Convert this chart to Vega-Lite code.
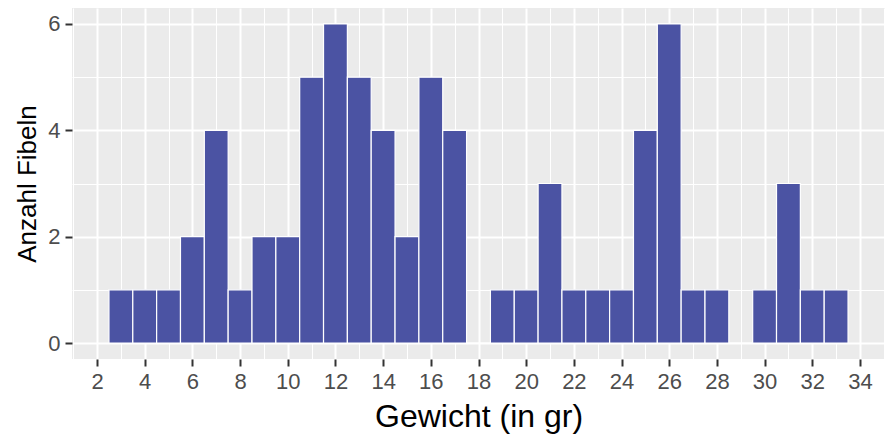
{
  "$schema": "https://vega.github.io/schema/vega-lite/v6.json",
  "width": 813,
  "height": 351,
  "autosize": "none",
  "padding": {"left": 72, "top": 8, "right": 0, "bottom": 78},
  "background": "white",
  "config": {
    "view": {"fill": "#EBEBEB", "stroke": null},
    "font": "Liberation Sans"
  },
  "data": {
    "values": [
      {"von": 2.5, "bis": 3.5, "anzahl": 1},
      {"von": 3.5, "bis": 4.5, "anzahl": 1},
      {"von": 4.5, "bis": 5.5, "anzahl": 1},
      {"von": 5.5, "bis": 6.5, "anzahl": 2},
      {"von": 6.5, "bis": 7.5, "anzahl": 4},
      {"von": 7.5, "bis": 8.5, "anzahl": 1},
      {"von": 8.5, "bis": 9.5, "anzahl": 2},
      {"von": 9.5, "bis": 10.5, "anzahl": 2},
      {"von": 10.5, "bis": 11.5, "anzahl": 5},
      {"von": 11.5, "bis": 12.5, "anzahl": 6},
      {"von": 12.5, "bis": 13.5, "anzahl": 5},
      {"von": 13.5, "bis": 14.5, "anzahl": 4},
      {"von": 14.5, "bis": 15.5, "anzahl": 2},
      {"von": 15.5, "bis": 16.5, "anzahl": 5},
      {"von": 16.5, "bis": 17.5, "anzahl": 4},
      {"von": 17.5, "bis": 18.5, "anzahl": 0},
      {"von": 18.5, "bis": 19.5, "anzahl": 1},
      {"von": 19.5, "bis": 20.5, "anzahl": 1},
      {"von": 20.5, "bis": 21.5, "anzahl": 3},
      {"von": 21.5, "bis": 22.5, "anzahl": 1},
      {"von": 22.5, "bis": 23.5, "anzahl": 1},
      {"von": 23.5, "bis": 24.5, "anzahl": 1},
      {"von": 24.5, "bis": 25.5, "anzahl": 4},
      {"von": 25.5, "bis": 26.5, "anzahl": 6},
      {"von": 26.5, "bis": 27.5, "anzahl": 1},
      {"von": 27.5, "bis": 28.5, "anzahl": 1},
      {"von": 28.5, "bis": 29.5, "anzahl": 0},
      {"von": 29.5, "bis": 30.5, "anzahl": 1},
      {"von": 30.5, "bis": 31.5, "anzahl": 3},
      {"von": 31.5, "bis": 32.5, "anzahl": 1},
      {"von": 32.5, "bis": 33.5, "anzahl": 1}
    ]
  },
  "mark": {"type": "rect", "fill": "#4B53A3", "stroke": "white", "strokeWidth": 1.2},
  "encoding": {
    "x": {
      "field": "von",
      "type": "quantitative",
      "scale": {"domain": [0.95, 35.05], "nice": false, "zero": false},
      "axis": {
        "title": "Gewicht (in gr)",
        "values": [1,2,3,4,5,6,7,8,9,10,11,12,13,14,15,16,17,18,19,20,21,22,23,24,25,26,27,28,29,30,31,32,33,34,35],
        "labelExpr": "datum.value % 2 === 0 ? datum.label : ''",
        "labelFlush": false,
        "labelOverlap": false,
        "domain": false,
        "grid": true,
        "gridColor": "white",
        "gridOpacity": 1,
        "gridWidth": {"condition": {"test": "datum.value % 2 === 0", "value": 2}, "value": 1},
        "tickColor": "#333333",
        "tickWidth": 2,
        "tickSize": 7,
        "tickOpacity": {"condition": {"test": "datum.value % 2 === 0", "value": 1}, "value": 0},
        "labelColor": "#4D4D4D",
        "labelFontSize": 22,
        "labelPadding": 5,
        "titleFontSize": 32,
        "titleFontWeight": "normal",
        "titleColor": "black",
        "titlePadding": 9
      }
    },
    "x2": {"field": "bis"},
    "y": {
      "field": "anzahl",
      "type": "quantitative",
      "scale": {"domain": [-0.3, 6.3], "nice": false, "zero": false},
      "axis": {
        "title": "Anzahl Fibeln",
        "values": [0, 1, 2, 3, 4, 5, 6],
        "labelExpr": "datum.value % 2 === 0 ? datum.label : ''",
        "labelFlush": false,
        "labelOverlap": false,
        "domain": false,
        "grid": true,
        "gridColor": "white",
        "gridOpacity": 1,
        "gridWidth": {"condition": {"test": "datum.value % 2 === 0", "value": 2}, "value": 1},
        "tickColor": "#333333",
        "tickWidth": 2,
        "tickSize": 7,
        "tickOpacity": {"condition": {"test": "datum.value % 2 === 0", "value": 1}, "value": 0},
        "labelColor": "#4D4D4D",
        "labelFontSize": 22,
        "labelPadding": 5,
        "titleFontSize": 26,
        "titleFontWeight": "normal",
        "titleColor": "black",
        "titlePadding": 7
      }
    },
    "y2": {"datum": 0}
  }
}
